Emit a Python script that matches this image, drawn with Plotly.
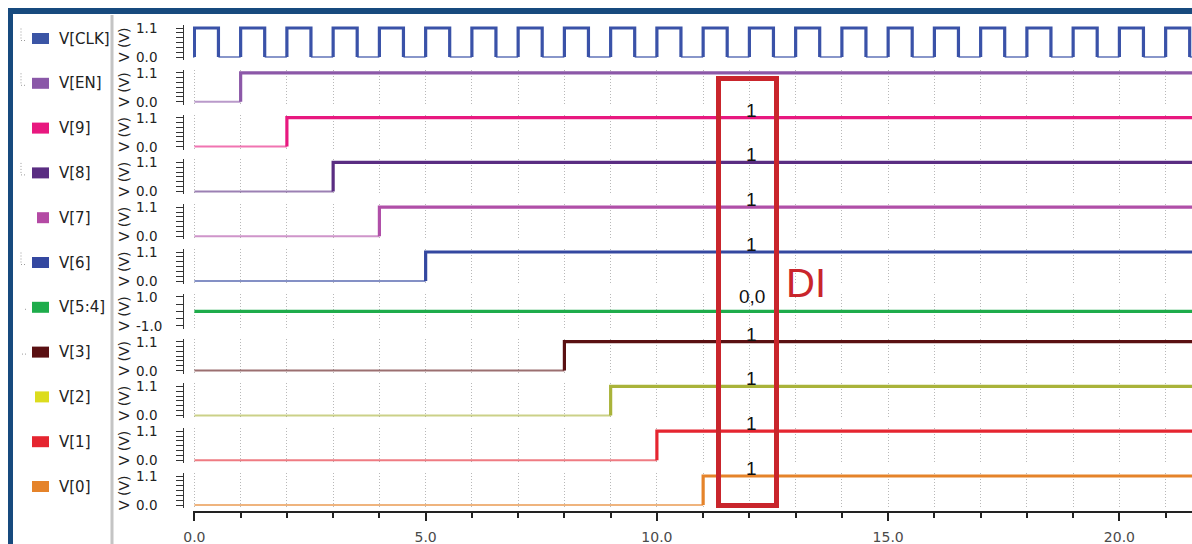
import plotly.graph_objects as go
import numpy as np

# ---------------- data ----------------
signal_names = ["V[CLK]", "V[EN]", "V[9]", "V[8]", "V[7]", "V[6]",
                "V[5:4]", "V[3]", "V[2]", "V[1]", "V[0]"]

# clock edges (time in ns, level in V)
clk_t = [-0.5, 0.0, 0.52, 1.0, 1.52, 2.0, 2.52, 3.0, 3.52, 4.0, 4.52, 5.0, 5.52,
         6.0, 6.52, 7.0, 7.52, 8.0, 8.52, 9.0, 9.52, 10.0, 10.52, 11.0, 11.52,
         12.0, 12.52, 13.0, 13.52, 14.0, 14.52, 15.0, 15.52, 16.0, 16.52,
         17.0, 17.52, 18.0, 18.52, 19.0, 19.52, 20.0, 20.52, 21.0, 21.52]
clk_v = [0.0] + [1.1, 0.0] * 22

en_t, en_v = [0.0, 1.0], [0.0, 1.1]
v9_t, v9_v = [0.0, 2.0], [0.0, 1.1]
v8_t, v8_v = [0.0, 3.0], [0.0, 1.1]
v7_t, v7_v = [0.0, 4.0], [0.0, 1.1]
v6_t, v6_v = [0.0, 5.0], [0.0, 1.1]
v54_t, v54_v = [0.0], [0.0]
v3_t, v3_v = [0.0, 8.0], [0.0, 1.1]
v2_t, v2_v = [0.0, 9.0], [0.0, 1.1]
v1_t, v1_v = [0.0, 10.0], [0.0, 1.1]
v0_t, v0_v = [0.0, 11.0], [0.0, 1.1]

series_t = [clk_t, en_t, v9_t, v8_t, v7_t, v6_t, v54_t, v3_t, v2_t, v1_t, v0_t]
series_v = [clk_v, en_v, v9_v, v8_v, v7_v, v6_v, v54_v, v3_v, v2_v, v1_v, v0_v]
y_ranges = [(0.0, 1.1)] * 6 + [(-1.0, 1.0)] + [(0.0, 1.1)] * 4

# cursor readouts (rows V[9] .. V[0])
cursor_x = 12.05
readout_rows = [2, 3, 4, 5, 6, 7, 8, 9, 10]
readout_text = ["1", "1", "1", "1", "0,0", "1", "1", "1", "1"]

x_end = 21.57
x_start = -0.03

# ---------------- styles ----------------
line_colors = ["#3a52a8", "#8c58a8", "#e8187f", "#5a2d82", "#b04fa8", "#3448a0",
               "#1eac4b", "#5a1012", "#a9b33a", "#e52530", "#e5832a"]
legend_colors = ["#3b55a5", "#8a58a8", "#e8187f", "#5a2d82", "#b44aa4", "#3448a0",
                 "#1eac4b", "#5a1012", "#dcdc1e", "#e52530", "#e5832a"]
legend_sq_x0 = [32, 32, 32, 32, 37, 32, 32, 32, 35, 32, 32]
GRID = "#b8b8b8"
GRIDDASH = "1px,2px"

W, H = 1192, 544
def pxx(p):
    return p / W
def pxy(p):
    return 1 - p / H

n = len(signal_names)
row_high = [28 + 44.8 * i for i in range(n)]
row_low = [h + 29 for h in row_high]

fig = go.Figure()
layout = dict()
shapes = []
annotations = []

for i in range(n):
    xa = "x" if i == 0 else f"x{i+1}"
    ya = "y" if i == 0 else f"y{i+1}"
    lo, hi = y_ranges[i]
    t = list(series_t[i]) + [x_end + 0.5]
    v = list(series_v[i])
    col = line_colors[i]
    thick_x, thick_y, thin_x, thin_y = [], [], [], []
    for k in range(len(v)):
        a, b = t[k], t[k + 1]
        if v[k] == hi or (lo < v[k] < hi):
            pts_x, pts_y = [], []
            if k > 0:
                pts_x.append(a); pts_y.append(v[k - 1])
            pts_x += [a, b]; pts_y += [v[k], v[k]]
            if k + 1 < len(v):
                pts_x.append(b); pts_y.append(v[k + 1])
            thick_x += pts_x + [None]; thick_y += pts_y + [None]
        else:
            thin_x += [a, b, None]; thin_y += [v[k], v[k], None]
    if thin_x:
        fig.add_trace(go.Scatter(x=thin_x, y=thin_y, mode="lines", xaxis=xa, yaxis=ya,
                                 line=dict(color=col, width=2), opacity=0.6,
                                 showlegend=False, hoverinfo="skip"))
    if thick_x:
        fig.add_trace(go.Scatter(x=thick_x, y=thick_y, mode="lines", xaxis=xa, yaxis=ya,
                                 line=dict(color=col, width=3.2),
                                 showlegend=False, hoverinfo="skip"))

    pad = 3.0 * (hi - lo) / 29
    ykey = "yaxis" if i == 0 else f"yaxis{i+1}"
    xkey = "xaxis" if i == 0 else f"xaxis{i+1}"
    if i == 6:
        minor_vals = [-1.0, -0.5, 0.0, 0.5, 1.0]
    else:
        minor_vals = list(np.linspace(lo, hi, 7))
    layout[ykey] = dict(
        domain=[pxy(row_low[i] + 3), pxy(row_high[i] - 3)],
        range=[lo - pad, hi + pad],
        anchor="free", position=pxx(183), automargin=False,
        showline=True, linecolor="#333", linewidth=1,
        ticks="outside", ticklen=7, tickcolor="#333", tickwidth=1,
        tickmode="array", tickvals=[lo, hi], showticklabels=False,
        minor=dict(tickmode="array", tickvals=minor_vals, ticks="outside",
                   ticklen=7, tickcolor="#333", tickwidth=1),
        showgrid=False, zeroline=False, fixedrange=True,
    )
    # left-aligned tick labels (as in the reference)
    for tv in (lo, hi):
        annotations.append(dict(
            x=pxx(134), y=tv, xref="paper", yref=ya, text=f"{tv:.1f}",
            showarrow=False, xanchor="left", yanchor="middle",
            font=dict(family="DejaVu Sans", size=13.5, color="#222")))

    xd = dict(
        domain=[pxx(193), 1.0], range=[x_start, x_end],
        anchor=ya, showticklabels=False, ticks="", automargin=False,
        showgrid=(i != 0), gridcolor=GRID, griddash=GRIDDASH, gridwidth=1,
        dtick=1, tick0=0, zeroline=False, showline=False, fixedrange=True,
    )
    if i > 0:
        xd["matches"] = "x"
    if i == n - 1:
        xd.update(
            anchor="free", position=pxy(512),
            showline=True, linecolor="#222", linewidth=1.5,
            ticks="outside", ticklen=8, tickcolor="#222", tickwidth=1.5,
            dtick=5, tickformat=".1f", showticklabels=True,
            tickfont=dict(family="DejaVu Sans", size=14, color="#4a4a4a"),
            ticklabelstandoff=4,
            minor=dict(dtick=1, ticks="outside", ticklen=5, tickcolor="#222",
                       tickwidth=1.5, showgrid=True, gridcolor=GRID,
                       griddash=GRIDDASH, gridwidth=1),
        )
    layout[xkey] = xd

    # axis title
    annotations.append(dict(
        x=pxx(124), y=pxy(row_high[i] + 17), xref="paper", yref="paper",
        text="V (V)", textangle=-90, showarrow=False,
        font=dict(family="DejaVu Sans", size=14, color="#222"),
        xanchor="center", yanchor="middle"))

    # legend entry
    cy = row_high[i] + 14.5 - 4
    shapes.append(dict(type="rect", xref="paper", yref="paper",
                       x0=pxx(legend_sq_x0[i]), x1=pxx(49),
                       y0=pxy(cy + 5.5), y1=pxy(cy - 5.5),
                       fillcolor=legend_colors[i], line=dict(width=0)))
    annotations.append(dict(
        x=pxx(57), y=pxy(cy), xref="paper", yref="paper",
        text=signal_names[i], showarrow=False, xanchor="left", yanchor="middle",
        font=dict(family="DejaVu Sans", size=15, color="#222")))

# tree connectors in legend panel
for i in [0, 1, 3, 5]:
    cy = row_high[i] + 14.5 - 4
    shapes.append(dict(type="line", xref="paper", yref="paper",
                       x0=pxx(21), x1=pxx(21), y0=pxy(cy - 10), y1=pxy(cy + 2),
                       line=dict(color="#9a9a9a", width=1, dash="1px,2px")))
    shapes.append(dict(type="line", xref="paper", yref="paper",
                       x0=pxx(21), x1=pxx(27), y0=pxy(cy + 2), y1=pxy(cy + 2),
                       line=dict(color="#9a9a9a", width=1, dash="1px,2px")))
for i in [6, 7]:
    cy = row_high[i] + 14.5 - 4
    shapes.append(dict(type="line", xref="paper", yref="paper",
                       x0=pxx(22 if i == 7 else 25), x1=pxx(27), y0=pxy(cy + 2), y1=pxy(cy + 2),
                       line=dict(color="#9a9a9a", width=1, dash="1px,2px")))

# cursor readouts
for r, txt in zip(readout_rows, readout_text):
    t = series_t[r]; v = series_v[r]
    val = v[max(k for k in range(len(t)) if t[k] <= cursor_x)]
    xa = f"x{r+1}"; ya = f"y{r+1}"
    annotations.append(dict(
        x=cursor_x, y=val, xref=xa, yref=ya, text=txt, showarrow=False,
        xanchor="center", yanchor="bottom", yshift=-5 if txt == "1" else 2,
        font=dict(family="Liberation Sans", size=19, color="#111")))

# frame, separator
shapes.append(dict(type="rect", xref="paper", yref="paper",
                   x0=pxx(8), x1=1.0, y0=pxy(14), y1=pxy(8),
                   fillcolor="#174a7e", line=dict(width=0)))
shapes.append(dict(type="rect", xref="paper", yref="paper",
                   x0=pxx(8), x1=pxx(13), y0=0, y1=pxy(8),
                   fillcolor="#174a7e", line=dict(width=0)))
shapes.append(dict(type="line", xref="paper", yref="paper",
                   x0=pxx(112), x1=pxx(112), y0=0, y1=pxy(15),
                   line=dict(color="#c4c4c4", width=3)))

# DI highlight box
shapes.append(dict(type="rect", xref="paper", yref="paper",
                   x0=pxx(718.5), x1=pxx(776.5), y0=pxy(505.5), y1=pxy(78.5),
                   line=dict(color="#c9252c", width=5), fillcolor="rgba(0,0,0,0)"))
annotations.append(dict(x=pxx(806), y=pxy(283), xref="paper", yref="paper",
                        text="DI", showarrow=False, xanchor="center", yanchor="middle",
                        font=dict(family="Liberation Sans", size=40, color="#c9252c")))

fig.update_layout(
    width=W, height=H, margin=dict(l=0, r=0, t=0, b=0, autoexpand=False),
    paper_bgcolor="white", plot_bgcolor="white",
    showlegend=False, shapes=shapes, annotations=annotations,
    **layout,
)

fig.write_html("out.html", config={"displayModeBar": False},
               post_script="document.body.style.margin='0';document.body.style.overflow='hidden';")
